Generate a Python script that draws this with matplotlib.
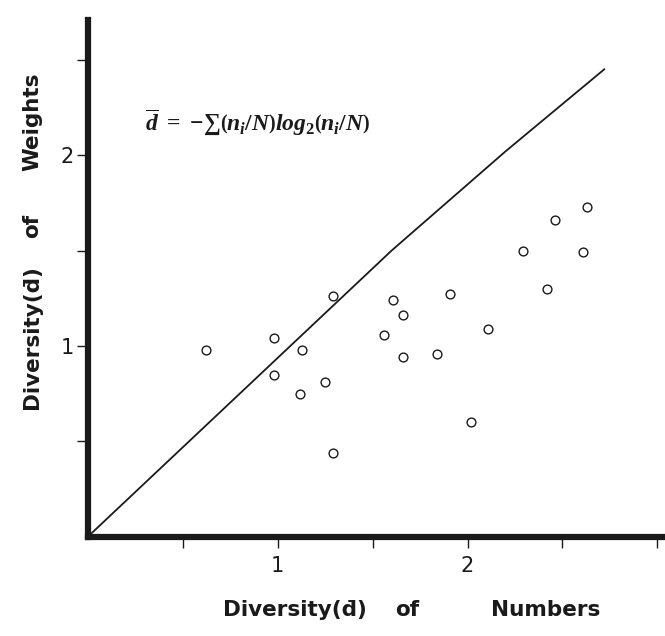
import matplotlib
matplotlib.use("Agg")
import matplotlib.pyplot as plt

# Diversity values
numbers_div = [0.62, 0.98, 0.98, 1.13, 1.12, 1.25, 1.29, 1.29, 1.56, 1.61, 1.66,
               1.66, 1.84, 1.91, 2.11, 2.02, 2.29, 2.42, 2.46, 2.61, 2.63]
weights_div = [0.98, 1.04, 0.85, 0.98, 0.75, 0.81, 1.26, 0.44, 1.06, 1.24, 1.16,
               0.94, 0.96, 1.27, 1.09, 0.60, 1.50, 1.30, 1.66, 1.49, 1.73]

# Hand-drawn reference line from the origin (flattens a little near the top)
ref_x = [0, 1.6, 2.2, 2.72]
ref_y = [0, 1.50, 2.02, 2.45]

x_ticks = [0.5, 1, 1.5, 2, 2.5, 3]
x_labels = ['', '1', '', '2', '', '']
y_ticks = [0.5, 1, 1.5, 2, 2.5]
y_labels = ['', '1', '', '2', '']

plt.rcParams['mathtext.fontset'] = 'custom'
plt.rcParams['mathtext.it'] = 'Liberation Serif:italic:bold'
plt.rcParams['mathtext.rm'] = 'Liberation Serif:bold'

ink = '#1a1a1a'

fig = plt.figure(figsize=(6.65, 6.36), dpi=100)
ax = fig.add_axes([0.132, 0.156, 0.868, 0.813])

ax.plot(ref_x, ref_y, color=ink, lw=1.3)
ax.scatter(numbers_div, weights_div, s=40, facecolors='white', edgecolors=ink,
           linewidths=1.0, zorder=3)

ax.set_xlim(0, 3.04)
ax.set_ylim(0, 2.71)

# only left and bottom axes, drawn heavy
for side in ['top', 'right']:
    ax.spines[side].set_visible(False)
for side in ['left', 'bottom']:
    ax.spines[side].set_linewidth(4.5)
    ax.spines[side].set_color(ink)

ax.set_xticks(x_ticks)
ax.set_xticklabels(x_labels)
ax.set_yticks(y_ticks)
ax.set_yticklabels(y_labels)
ax.tick_params(axis='both', length=8, width=1, color=ink, labelsize=15,
               labelcolor=ink)
ax.tick_params(axis='x', pad=6)
ax.tick_params(axis='y', pad=2)

# formula
ax.text(0.30, 2.17, r'$\overline{d}\ =\ {-}\sum\left(n_i/N\right)log_2\left(n_i/N\right)$',
        fontsize=17, color=ink, ha='left', va='center')

# axis titles, words spaced as in the original
lab = dict(fontsize=15.5, fontweight='bold', color=ink, family='DejaVu Sans',
           ha='center', va='center')
fig.text(0.444, 0.041, 'Diversity(d\u0304)', **lab)
fig.text(0.612, 0.041, 'of', **lab)
fig.text(0.820, 0.041, 'Numbers', **lab)
fig.text(0.048, 0.470, 'Diversity(d\u0304)', rotation=90, **lab)
fig.text(0.048, 0.645, 'of', rotation=90, **lab)
fig.text(0.048, 0.808, 'Weights', rotation=90, **lab)

fig.savefig('out.png', dpi=100)
